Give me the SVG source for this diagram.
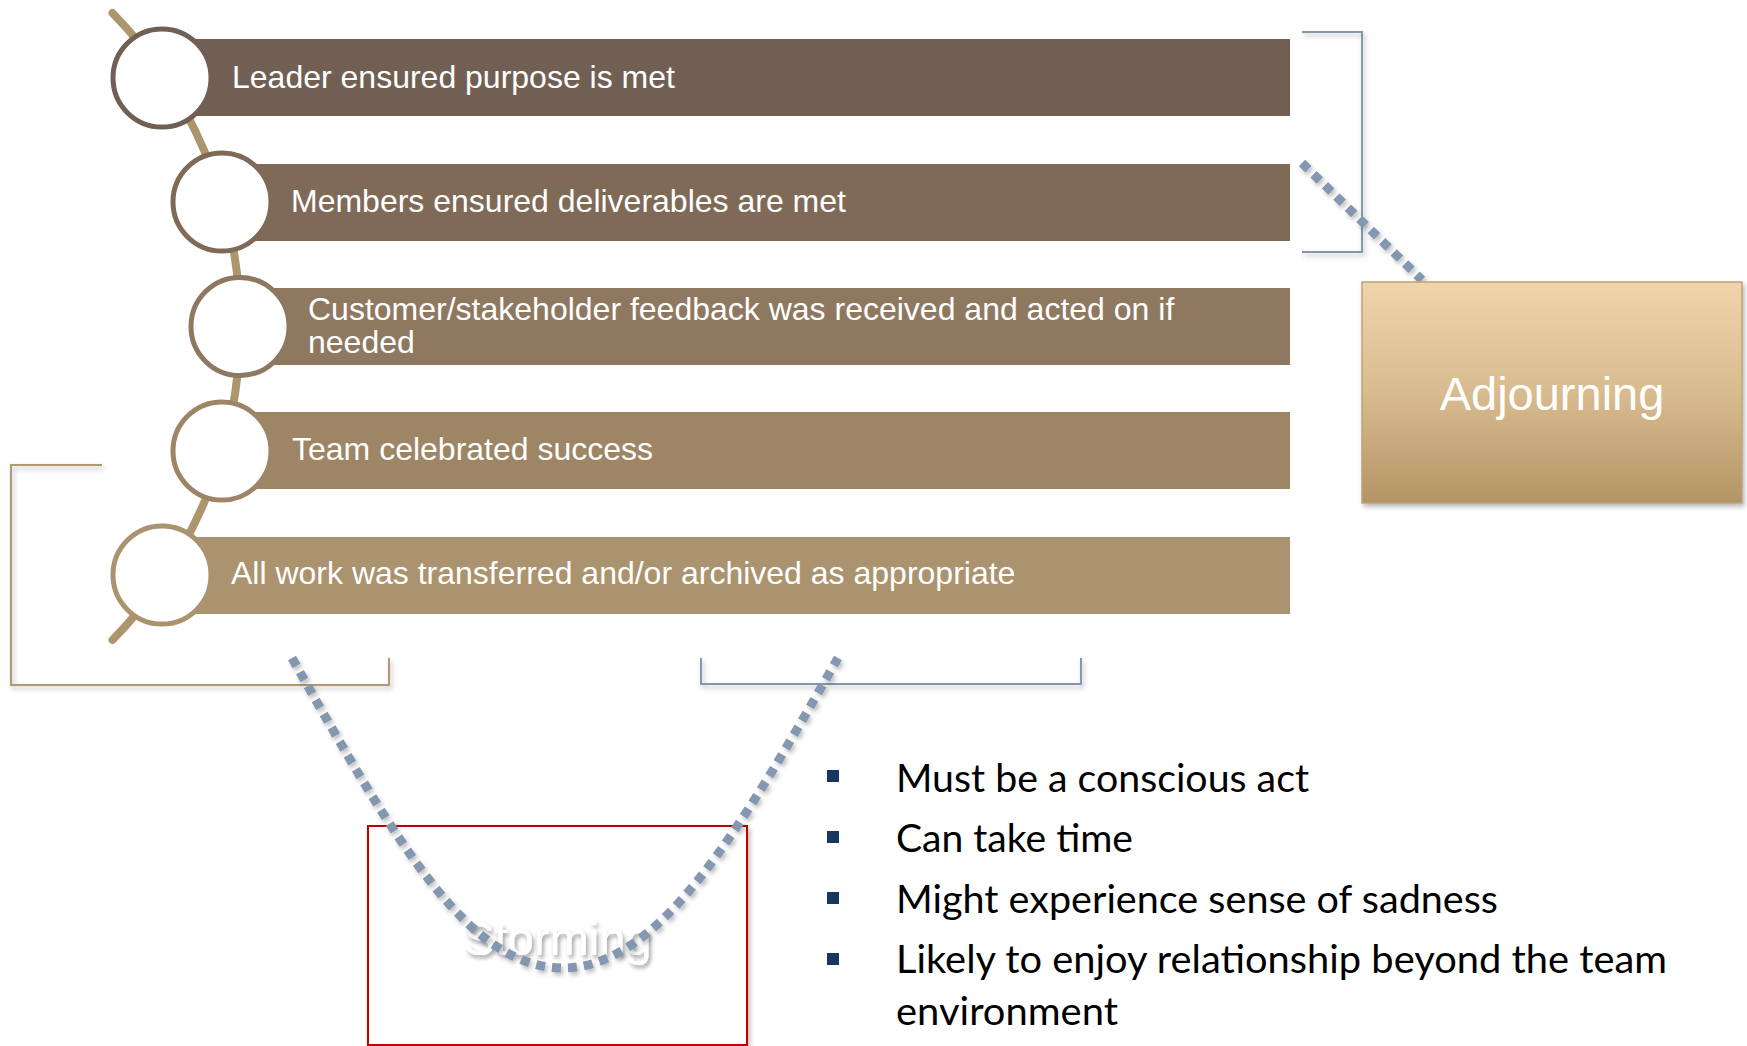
<svg xmlns="http://www.w3.org/2000/svg" width="1747" height="1046" viewBox="0 0 1747 1046">
  <defs>
    <filter id="softShadow" filterUnits="userSpaceOnUse" x="0" y="0" width="1747" height="1046">
      <feDropShadow dx="2" dy="3" stdDeviation="2.5" flood-color="#000" flood-opacity="0.28"/>
    </filter>
    <filter id="dotShadow" filterUnits="userSpaceOnUse" x="0" y="0" width="1747" height="1046">
      <feDropShadow dx="2" dy="3" stdDeviation="2" flood-color="#000" flood-opacity="0.25"/>
    </filter>
    <filter id="textShadow" filterUnits="userSpaceOnUse" x="0" y="0" width="1747" height="1046">
      <feDropShadow dx="2" dy="3" stdDeviation="2" flood-color="#000" flood-opacity="0.4"/>
    </filter>
    <linearGradient id="adjGrad" x1="0" y1="0" x2="0" y2="1">
      <stop offset="0" stop-color="#F0D5AB"/>
      <stop offset="0.5" stop-color="#D8BB8F"/>
      <stop offset="1" stop-color="#B39565"/>
    </linearGradient>
  </defs>
  <style>
    .bar-text{font-family:"Liberation Sans",Arial,sans-serif;font-size:32px;fill:#fff}
    .ring{fill:#fff;stroke-width:5}
    .dots{fill:none;stroke:#8497B0;stroke-width:9;stroke-dasharray:9 7}
    .bracket-tan{fill:none;stroke:#B09870;stroke-width:2}
    .bracket-blue{fill:none;stroke:#8496B2;stroke-width:2}
    .bullet{fill:#17375E}
    .bullet-text{font-family:Lato,"Open Sans",sans-serif;font-size:38px;fill:#000}
    .big-label{font-family:"Liberation Sans",Arial,sans-serif;font-size:47px;fill:#fff;text-anchor:middle}
  </style>

  <!-- Storming box -->
  <g id="storming">
    <rect x="368" y="826" width="379" height="219" fill="#fff" stroke="#C00000" stroke-width="2" filter="url(#softShadow)"/>
    <text class="big-label" x="557.5" y="955" filter="url(#textShadow)">Storming</text>
  </g>

  <!-- Bracket outlines -->
  <g id="brackets" filter="url(#softShadow)">
    <path class="bracket-tan" d="M102,465 H11 V685 H389 V658"/>
    <path class="bracket-blue" d="M701,658 V684 H1081 V658"/>
    <path class="bracket-blue" d="M1302,32 H1362 V252 H1302"/>
  </g>

  <!-- Connectors -->
  <g id="connectors">
    <g filter="url(#dotShadow)">
      <path class="dots" d="M292,658 C400,850 470,968 563,968 C660,968 740,830 838,658"/>
      <path class="dots" d="M1302,163 L1422,280"/>
    </g>
    <path id="spine" d="M112.5,13 A449,449 0 0 1 112.5,640" fill="none" stroke="#AD966E" stroke-width="8" stroke-linecap="round"/>
  </g>

  <!-- Checklist items -->
  <g id="item1">
    <rect x="162" y="39" width="1128" height="77" fill="#725F53"/>
    <circle class="ring" cx="162" cy="78" r="49" stroke="#725F53"/>
    <text class="bar-text" x="232" y="88">Leader ensured purpose is met</text>
  </g>
  <g id="item2">
    <rect x="222" y="164" width="1068" height="77" fill="#7F6A58"/>
    <circle class="ring" cx="222" cy="202" r="49" stroke="#7F6A58"/>
    <text class="bar-text" x="291" y="212">Members ensured deliverables are met</text>
  </g>
  <g id="item3">
    <rect x="240" y="288" width="1050" height="77" fill="#8F7860"/>
    <circle class="ring" cx="240" cy="326.5" r="49" stroke="#8F7860"/>
    <text class="bar-text" x="308" y="320">Customer/stakeholder feedback was received and acted on if</text>
    <text class="bar-text" x="308" y="353">needed</text>
  </g>
  <g id="item4">
    <rect x="222" y="412" width="1068" height="77" fill="#9E8566"/>
    <circle class="ring" cx="222" cy="451" r="49" stroke="#9E8566"/>
    <text class="bar-text" x="292" y="460">Team celebrated success</text>
  </g>
  <g id="item5">
    <rect x="162" y="537" width="1128" height="77" fill="#AC936F"/>
    <circle class="ring" cx="162" cy="575" r="49" stroke="#AC936F"/>
    <text class="bar-text" x="231" y="584">All work was transferred and/or archived as appropriate</text>
  </g>

  <!-- Adjourning stage -->
  <g id="adjourning">
    <rect x="1362" y="282" width="380" height="221" fill="url(#adjGrad)" stroke="#BFA275" stroke-width="1.5" filter="url(#softShadow)"/>
    <text class="big-label" x="1552" y="410" font-size="46">Adjourning</text>
  </g>

  <!-- Bullet notes -->
  <g id="notes">
    <rect class="bullet" x="827" y="770" width="12" height="12"/>
    <text class="bullet-text" x="896" y="792" textLength="413" lengthAdjust="spacingAndGlyphs">Must be a conscious act</text>
    <rect class="bullet" x="827" y="831" width="12" height="12"/>
    <text class="bullet-text" x="896" y="852" textLength="237" lengthAdjust="spacingAndGlyphs">Can take time</text>
    <rect class="bullet" x="827" y="892" width="12" height="12"/>
    <text class="bullet-text" x="896" y="913" textLength="602" lengthAdjust="spacingAndGlyphs">Might experience sense of sadness</text>
    <rect class="bullet" x="827" y="953" width="12" height="12"/>
    <text class="bullet-text" x="896" y="973" textLength="771" lengthAdjust="spacingAndGlyphs">Likely to enjoy relationship beyond the team</text>
    <text class="bullet-text" x="896" y="1025" textLength="222" lengthAdjust="spacingAndGlyphs">environment</text>
  </g>
</svg>
